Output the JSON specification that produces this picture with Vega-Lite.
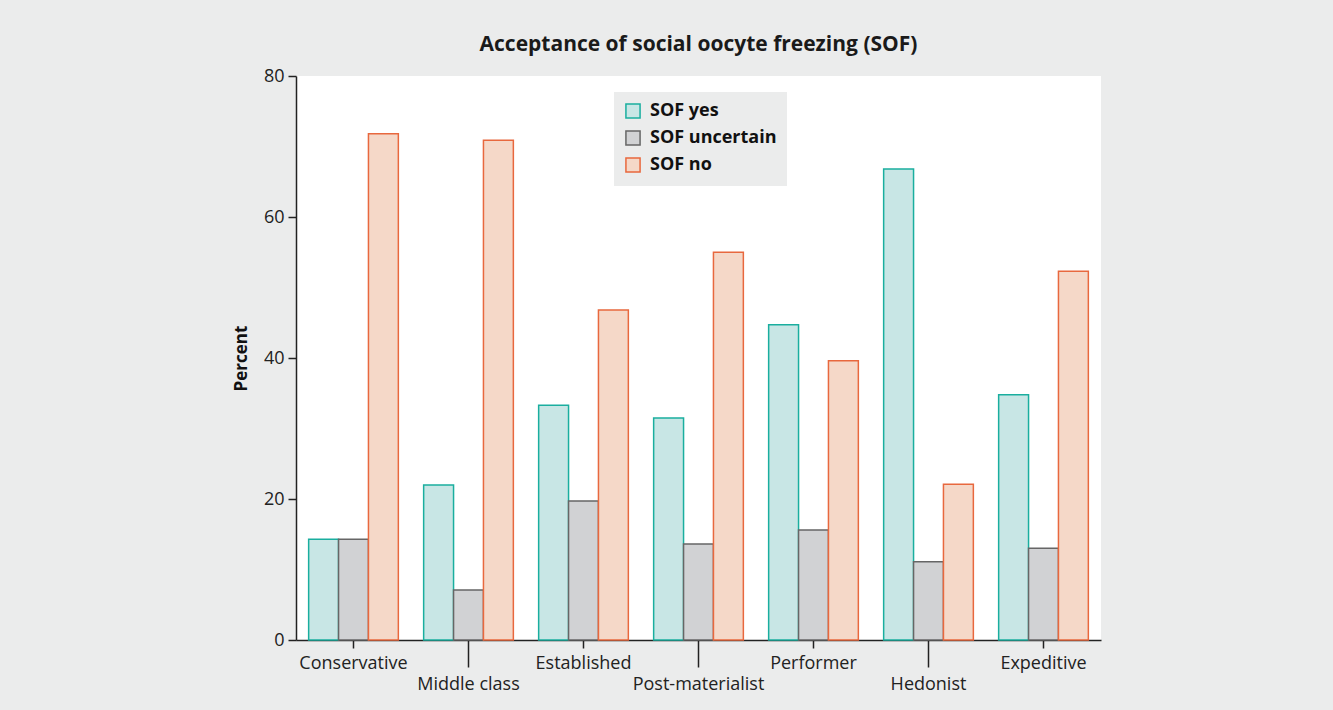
{
  "$schema": "https://vega.github.io/schema/vega-lite/v6.json",
  "autosize": "none",
  "width": 805,
  "height": 564,
  "padding": {"left": 296, "top": 76, "right": 232, "bottom": 70},
  "background": "#ebecec",
  "title": {"text": "Acceptance of social oocyte freezing (SOF)", "font": "Open Sans", "fontSize": 21, "fontWeight": "bold", "color": "#1a1a1a", "offset": 12, "anchor": "middle"},
  "config": {
    "view": {"fill": "white", "stroke": null},
    "font": "Open Sans"
  },
  "data": {
    "values": [
      {"group": "Conservative", "answer": "SOF yes", "pct": 14.3},
      {"group": "Conservative", "answer": "SOF uncertain", "pct": 14.3},
      {"group": "Conservative", "answer": "SOF no", "pct": 71.8},
      {"group": "Middle class", "answer": "SOF yes", "pct": 22.0},
      {"group": "Middle class", "answer": "SOF uncertain", "pct": 7.1},
      {"group": "Middle class", "answer": "SOF no", "pct": 70.9},
      {"group": "Established", "answer": "SOF yes", "pct": 33.3},
      {"group": "Established", "answer": "SOF uncertain", "pct": 19.7},
      {"group": "Established", "answer": "SOF no", "pct": 46.8},
      {"group": "Post-materialist", "answer": "SOF yes", "pct": 31.5},
      {"group": "Post-materialist", "answer": "SOF uncertain", "pct": 13.6},
      {"group": "Post-materialist", "answer": "SOF no", "pct": 55.0},
      {"group": "Performer", "answer": "SOF yes", "pct": 44.7},
      {"group": "Performer", "answer": "SOF uncertain", "pct": 15.6},
      {"group": "Performer", "answer": "SOF no", "pct": 39.6},
      {"group": "Hedonist", "answer": "SOF yes", "pct": 66.8},
      {"group": "Hedonist", "answer": "SOF uncertain", "pct": 11.1},
      {"group": "Hedonist", "answer": "SOF no", "pct": 22.1},
      {"group": "Expeditive", "answer": "SOF yes", "pct": 34.8},
      {"group": "Expeditive", "answer": "SOF uncertain", "pct": 13.0},
      {"group": "Expeditive", "answer": "SOF no", "pct": 52.3}
    ]
  },
  "mark": {"type": "bar", "strokeWidth": 1.5},
  "encoding": {
    "x": {
      "field": "group", "type": "nominal", "sort": null,
      "scale": {"paddingInner": 0.22, "paddingOuter": 0.11},
      "axis": {
        "title": null, "labelAngle": 0, "labelFontSize": 18, "labelColor": "#222",
        "domainColor": "#222", "domainWidth": 1.5, "tickColor": "#222", "tickWidth": 1.5,
        "tickSize": {"condition": {"test": "indexof(['Middle class','Post-materialist','Hedonist'], datum.value) >= 0", "value": 27}, "value": 8},
        "labelPadding": {"condition": {"test": "indexof(['Middle class','Post-materialist','Hedonist'], datum.value) >= 0", "value": 8}, "value": 6}
      }
    },
    "xOffset": {"field": "answer", "type": "nominal", "sort": ["SOF yes", "SOF uncertain", "SOF no"], "scale": {"paddingInner": 0, "paddingOuter": 0}},
    "y": {
      "field": "pct", "type": "quantitative",
      "scale": {"domain": [0, 80]},
      "axis": {
        "title": "Percent", "titleFontSize": 17, "titleFontWeight": "bold", "titleColor": "#111", "titlePadding": 13,
        "values": [0, 20, 40, 60, 80], "grid": false,
        "labelFontSize": 18, "labelColor": "#222", "labelPadding": 4,
        "domainColor": "#222", "domainWidth": 1.5, "tickColor": "#222", "tickWidth": 1.5, "tickSize": 8
      }
    },
    "fill": {
      "field": "answer", "type": "nominal", "sort": ["SOF yes", "SOF uncertain", "SOF no"],
      "scale": {"domain": ["SOF yes", "SOF uncertain", "SOF no"], "range": ["#c8e6e5", "#d1d2d4", "#f5d8c8"]},
      "legend": {
        "title": null, "orient": "none", "legendX": 318, "legendY": 16,
        "fillColor": "#ebecec", "padding": 10, "symbolType": "square", "symbolSize": 200, "symbolStrokeWidth": 1.5,
        "labelFontSize": 18, "labelFontWeight": "bold", "labelColor": "#111", "rowPadding": 5, "labelOffset": 8
      }
    },
    "stroke": {
      "field": "answer", "type": "nominal", "sort": ["SOF yes", "SOF uncertain", "SOF no"],
      "scale": {"domain": ["SOF yes", "SOF uncertain", "SOF no"], "range": ["#1aae9f", "#666666", "#e8683e"]},
      "legend": null
    }
  }
}
